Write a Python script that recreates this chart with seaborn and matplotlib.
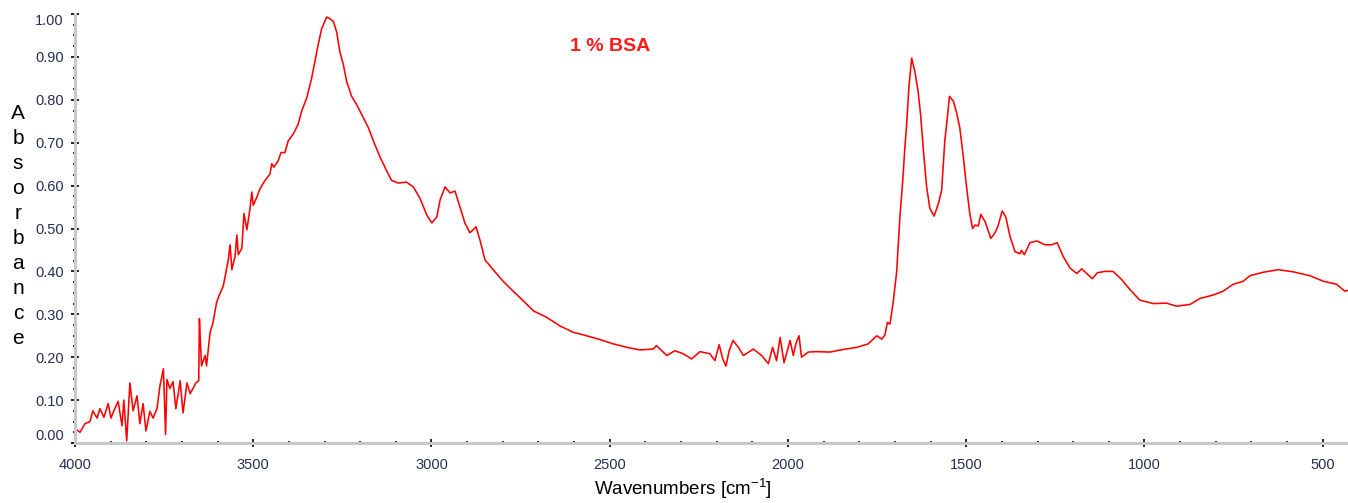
import pandas as pd
import seaborn as sns
import matplotlib.pyplot as plt
from matplotlib.ticker import MultipleLocator

# FTIR spectrum of 1 % BSA
wavenumber = [3994, 3986, 3972, 3958, 3950, 3938, 3930, 3919, 3907, 3899,
              3891, 3879, 3868, 3863, 3855, 3846, 3837, 3826, 3818, 3809,
              3801, 3790, 3781, 3770, 3762, 3752, 3746, 3742, 3734, 3725,
              3717, 3705, 3697, 3686, 3677, 3669, 3661, 3653, 3651, 3649,
              3645, 3635, 3631, 3621, 3613, 3603, 3598, 3584, 3570, 3565,
              3560, 3551, 3546, 3542, 3532, 3526, 3518, 3509, 3504, 3500,
              3490, 3481, 3467, 3453, 3448, 3442, 3430, 3422, 3411, 3402,
              3388, 3374, 3364, 3350, 3336, 3327, 3318, 3308, 3294, 3285,
              3275, 3266, 3257, 3247, 3238, 3224, 3210, 3191, 3177, 3163,
              3144, 3126, 3112, 3093, 3070, 3051, 3032, 3013, 2999, 2985,
              2976, 2962, 2948, 2934, 2920, 2906, 2892, 2875, 2864, 2850,
              2827, 2799, 2771, 2742, 2714, 2677, 2640, 2602, 2565, 2527,
              2490, 2452, 2415, 2378, 2369, 2340, 2317, 2294, 2270, 2247,
              2219, 2205, 2193, 2183, 2174, 2165, 2154, 2139, 2125, 2097,
              2074, 2055, 2043, 2032, 2022, 2011, 1994, 1985, 1978, 1969,
              1962, 1943, 1920, 1882, 1845, 1807, 1775, 1751, 1737, 1728,
              1721, 1714, 1705, 1695, 1686, 1678, 1672, 1667, 1661, 1653,
              1644, 1635, 1628, 1620, 1611, 1602, 1590, 1578, 1569, 1560,
              1553, 1547, 1536, 1527, 1518, 1508, 1499, 1490, 1482, 1475,
              1466, 1459, 1447, 1431, 1419, 1410, 1399, 1389, 1377, 1363,
              1349, 1345, 1337, 1321, 1302, 1279, 1260, 1245, 1228, 1209,
              1190, 1176, 1162, 1146, 1132, 1111, 1088, 1064, 1041, 1013,
              975, 938, 910, 872, 844, 807, 779, 751, 723, 704,
              667, 625, 583, 536, 498, 461, 438, 429]
absorbance = [0.030, 0.025, 0.045, 0.050, 0.075, 0.058, 0.080, 0.060, 0.092, 0.058,
              0.075, 0.097, 0.040, 0.100, 0.005, 0.140, 0.075, 0.110, 0.045, 0.092,
              0.028, 0.074, 0.058, 0.080, 0.132, 0.173, 0.020, 0.148, 0.127, 0.143,
              0.080, 0.145, 0.070, 0.140, 0.115, 0.127, 0.140, 0.145, 0.290, 0.250,
              0.180, 0.204, 0.180, 0.258, 0.280, 0.327, 0.339, 0.366, 0.427, 0.462,
              0.404, 0.435, 0.485, 0.439, 0.454, 0.535, 0.497, 0.547, 0.585, 0.554,
              0.573, 0.593, 0.612, 0.627, 0.651, 0.643, 0.658, 0.677, 0.677, 0.704,
              0.720, 0.743, 0.774, 0.804, 0.851, 0.889, 0.928, 0.966, 0.993, 0.989,
              0.982, 0.958, 0.912, 0.881, 0.843, 0.808, 0.789, 0.758, 0.735, 0.704,
              0.666, 0.635, 0.612, 0.606, 0.608, 0.597, 0.570, 0.531, 0.513, 0.527,
              0.566, 0.597, 0.583, 0.587, 0.550, 0.512, 0.490, 0.504, 0.473, 0.427,
              0.404, 0.377, 0.354, 0.331, 0.308, 0.293, 0.273, 0.258, 0.250, 0.241,
              0.231, 0.223, 0.217, 0.219, 0.227, 0.204, 0.215, 0.208, 0.196, 0.213,
              0.208, 0.192, 0.229, 0.196, 0.179, 0.215, 0.239, 0.223, 0.204, 0.219,
              0.204, 0.185, 0.223, 0.192, 0.246, 0.187, 0.239, 0.204, 0.231, 0.250,
              0.200, 0.212, 0.213, 0.212, 0.218, 0.223, 0.231, 0.250, 0.242, 0.252,
              0.281, 0.277, 0.327, 0.400, 0.527, 0.612, 0.689, 0.743, 0.827, 0.897,
              0.866, 0.820, 0.766, 0.681, 0.597, 0.547, 0.529, 0.558, 0.589, 0.704,
              0.758, 0.808, 0.797, 0.770, 0.735, 0.666, 0.597, 0.535, 0.500, 0.508,
              0.506, 0.533, 0.516, 0.477, 0.490, 0.508, 0.541, 0.527, 0.481, 0.446,
              0.441, 0.449, 0.439, 0.467, 0.471, 0.462, 0.462, 0.467, 0.435, 0.408,
              0.395, 0.406, 0.395, 0.383, 0.397, 0.400, 0.400, 0.381, 0.358, 0.333,
              0.325, 0.326, 0.319, 0.323, 0.337, 0.345, 0.354, 0.370, 0.377, 0.390,
              0.398, 0.404, 0.399, 0.390, 0.377, 0.370, 0.354, 0.356]

y_ticks = [0.00, 0.10, 0.20, 0.30, 0.40, 0.50, 0.60, 0.70, 0.80, 0.90, 1.00]
x_ticks = [4000, 3500, 3000, 2500, 2000, 1500, 1000, 500]

df = pd.DataFrame({'wavenumber': wavenumber, 'absorbance': absorbance})

sns.set_theme(style='white')
plt.rcParams['font.family'] = ['Liberation Sans', 'DejaVu Sans']

fig = plt.figure(figsize=(13.48, 5.03), dpi=100)
ax = fig.add_axes([75 / 1348, 1 - 443 / 503, 1 - 75 / 1348, (443 - 14) / 503])

sns.lineplot(ax=ax, data=df, x='wavenumber', y='absorbance', color='red',
             linewidth=1.15, estimator=None, sort=False)

ax.set_xlim(4000, 429)
ax.set_ylim(0, 1.0)

ax.set_xticks(x_ticks)
ax.set_yticks(y_ticks)
ax.set_yticklabels(['%.2f' % t for t in y_ticks])
ax.xaxis.set_minor_locator(MultipleLocator(100))
ax.yaxis.set_minor_locator(MultipleLocator(0.025))

lab_col = '#2a2d55'
ax.tick_params(axis='both', which='major', direction='inout', length=6, width=1.2,
               color='black', labelsize=10.5, labelcolor=lab_col)
ax.tick_params(axis='both', which='minor', direction='inout', length=2.5, width=1.2,
               color='black')
ax.tick_params(axis='x', which='both', bottom=True, pad=8)
ax.tick_params(axis='y', which='both', left=True, pad=5)

for s in ['top', 'right']:
    ax.spines[s].set_visible(False)
for s in ['left', 'bottom']:
    ax.spines[s].set_color('#c8c8c8')
    ax.spines[s].set_linewidth(2.2)

# keep the end labels inside the axis span as in the original software
yl = ax.get_yticklabels()
yl[0].set_va('bottom')
yl[-1].set_va('top')

ax.set_ylabel('')
ax.set_xlabel('Wavenumbers [cm$\\mathregular{^{-1}}$]', fontsize=13.5, color='black')
ax.xaxis.set_label_coords((683 - 75) / 1273, -0.078)

fig.text(18 / 1348, 1 - 226 / 503, '\n'.join('Absorbance'), ha='center', va='center',
         fontsize=15, linespacing=1.4, color='black')
fig.text(610 / 1348, 1 - 46.5 / 503, '1 % BSA', ha='center', va='center',
         fontsize=14, fontweight='bold', color='#ff1a1a')

fig.savefig('out.png', dpi=100, facecolor='white')
